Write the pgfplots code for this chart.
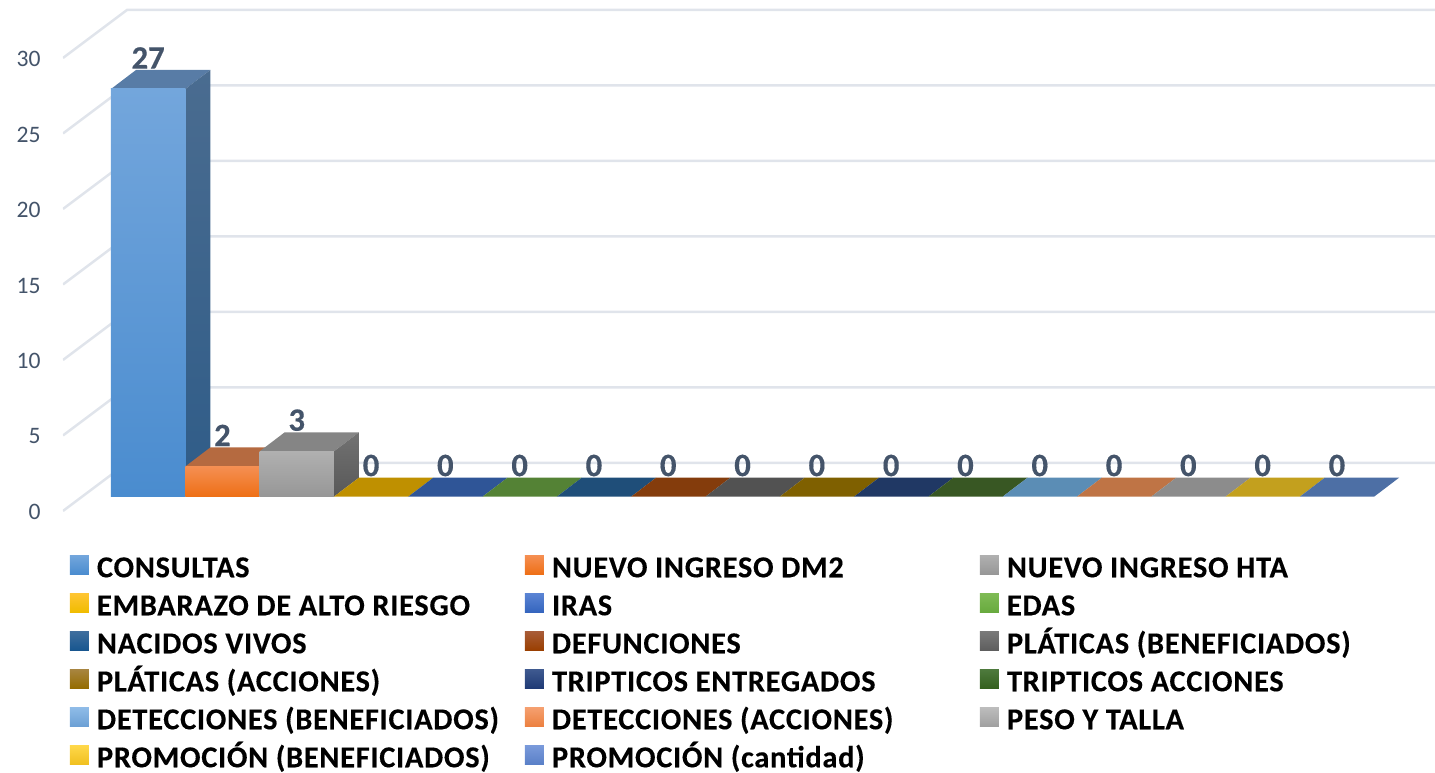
\documentclass[border=0pt]{standalone}
\usepackage{fontspec}
\setmainfont{Carlito}
\newfontfamily\legfont[LetterSpace=2.4,FakeBold=0.3]{Carlito}
\newfontfamily\numfont[FakeBold=0.3]{Carlito}
\usepackage{pgfplots}
\pgfplotsset{compat=1.18}
\definecolor{txt}{HTML}{44546A}
\definecolor{gridc}{HTML}{E0E4EB}
% front top, front bottom, top face for every series
\newcommand{\cols}[4]{%
  \definecolor{c#1a}{HTML}{#2}\definecolor{c#1b}{HTML}{#3}\definecolor{c#1t}{HTML}{#4}}
\cols{0}{73A6DC}{4A8CCF}{587CA6}
\cols{1}{F58F52}{EE6F16}{B56A40}
\cols{2}{B0B0B0}{979797}{858585}
\cols{3}{FFC533}{F0BC00}{BF9000}
\cols{4}{5A84D4}{3565BE}{2F5597}
\cols{5}{7FBB55}{68AA3E}{548235}
\cols{6}{3F6E9E}{17568F}{1F4E79}
\cols{7}{A85C38}{9A3F00}{843C0C}
\cols{8}{7A7A7A}{5E5E5E}{525252}
\cols{9}{A88540}{956C00}{7F6000}
\cols{10}{3F5A90}{1F3A75}{203864}
\cols{11}{4E7A3D}{34601E}{385723}
\cols{12}{8FBCE8}{6CA0D5}{5B8DB5}
\cols{13}{F5A070}{EC8040}{BF7445}
\cols{14}{BDBDBD}{A0A0A0}{8C8C8C}
\cols{15}{FFD84A}{F0C020}{C3A01E}
\cols{16}{7A9ADB}{5A80C8}{4D6FA5}
\definecolor{s0a}{HTML}{4A6C90}\definecolor{s0b}{HTML}{2F5C88}
\definecolor{s2a}{HTML}{727272}\definecolor{s2b}{HTML}{585858}
% 1 px of the reference = 0.5pt; bar depth is 25 px across, 19 px up
\pgfmathsetmacro\dx{25/74.3}
\pgfmathsetmacro\dy{19/15.1}
\pgfplotsset{
  bar3d/.style={ybar, bar width=1, bar shift=0pt, draw=none,
    top color=c#1a, bottom color=c#1b,
    nodes near coords,
    legend image code/.code={\path[top color=c#1a, bottom color=c#1b]
      (0pt,-4.75pt) rectangle (9.5pt,4.75pt);}},
}
% top face of the bar that starts at x=#1 with value #2
\newcommand{\topface}[2]{%
  \pgfmathsetmacro\xa{#1}\pgfmathsetmacro\xb{#1+1}%
  \pgfmathsetmacro\xc{#1+1+\dx}\pgfmathsetmacro\xd{#1+\dx}%
  \pgfmathsetmacro\yt{#2+\dy}%
  \edef\tmp{\noexpand\addplot[forget plot, fill=c#1t, draw=none] coordinates
    {(\xa,#2) (\xb,#2) (\xc,\yt) (\xd,\yt)};}\tmp
}
% side face, same bar; #3 and #4 are the shading colours
\newcommand{\sideface}[4]{%
  \pgfmathsetmacro\xb{#1+1}\pgfmathsetmacro\xc{#1+1+\dx}%
  \pgfmathsetmacro\yt{#2+\dy}%
  \edef\tmp{\noexpand\addplot[forget plot, top color=#3, bottom color=#4, draw=none] coordinates
    {(\xb,0) (\xb,#2) (\xc,\yt) (\xc,\dy)};}\tmp
}
% one wall level: side wall then back wall
\newcommand{\level}[1]{%
  \pgfmathsetmacro\ya{#1-0.947}\pgfmathsetmacro\yb{#1+2.232}%
  \edef\tmp{\noexpand\addplot[forget plot, gridc, line width=1.25pt] coordinates
    {(-0.646,\ya) (0.215,\yb) (17.82,\yb)};}\tmp
}
\newcommand{\leg}[1]{\hspace{4pt}\makebox[214pt][l]{\rule[-5pt]{0pt}{19pt}\fontsize{15.2}{15.2}\legfont\bfseries #1}}
\begin{document}
\begin{tikzpicture}
\useasboundingbox (-31.5pt,0pt) rectangle (686pt,386pt);
\begin{axis}[
    scale only axis, width=686pt, height=386pt,
    xmin=-0.646, xmax=17.82, ymin=-18.232, ymax=32.894,
    axis line style={draw=none}, major tick length=0pt,
    xtick=\empty,
    ytick={-0.947,4.053,9.053,14.053,19.053,24.053,29.053},
    yticklabels={0,5,10,15,20,25,30},
    yticklabel style={font=\fontsize{11.8}{12}\selectfont, text=txt, inner sep=0pt, xshift=-11pt, yshift=-0.5pt},
    /pgf/number format/assume math mode=true,
    every node near coord/.append style={font=\fontsize{16.3}{16.3}\numfont\bfseries,
      text=txt, anchor=south, inner sep=0pt, yshift=10pt},
    legend columns=3,
    legend cell align=left,
    legend style={at={(0.0051,0.2885)}, anchor=north west, draw=none, fill=none,
      inner sep=0pt, outer sep=0pt, row sep=3.5pt, nodes={inner sep=0pt, outer sep=0pt}},
]
\level{0}\level{5}\level{10}\level{15}\level{20}\level{25}\level{30}

\topface{0}{27}\sideface{0}{27}{s0a}{s0b}
\addplot[bar3d=0] coordinates {(0.5,27)}; \addlegendentry{\leg{CONSULTAS}}
\topface{1}{2}
\addplot[bar3d=1] coordinates {(1.5,2)}; \addlegendentry{\leg{NUEVO INGRESO DM2}}
\topface{2}{3}\sideface{2}{3}{s2a}{s2b}
\addplot[bar3d=2] coordinates {(2.5,3)}; \addlegendentry{\leg{NUEVO INGRESO HTA}}
\topface{3}{0}
\addplot[bar3d=3] coordinates {(3.5,0)}; \addlegendentry{\leg{EMBARAZO DE ALTO RIESGO}}
\topface{4}{0}
\addplot[bar3d=4] coordinates {(4.5,0)}; \addlegendentry{\leg{IRAS}}
\topface{5}{0}
\addplot[bar3d=5] coordinates {(5.5,0)}; \addlegendentry{\leg{EDAS}}
\topface{6}{0}
\addplot[bar3d=6] coordinates {(6.5,0)}; \addlegendentry{\leg{NACIDOS VIVOS}}
\topface{7}{0}
\addplot[bar3d=7] coordinates {(7.5,0)}; \addlegendentry{\leg{DEFUNCIONES}}
\topface{8}{0}
\addplot[bar3d=8] coordinates {(8.5,0)}; \addlegendentry{\leg{PLÁTICAS (BENEFICIADOS)}}
\topface{9}{0}
\addplot[bar3d=9] coordinates {(9.5,0)}; \addlegendentry{\leg{PLÁTICAS (ACCIONES)}}
\topface{10}{0}
\addplot[bar3d=10] coordinates {(10.5,0)}; \addlegendentry{\leg{TRIPTICOS ENTREGADOS}}
\topface{11}{0}
\addplot[bar3d=11] coordinates {(11.5,0)}; \addlegendentry{\leg{TRIPTICOS ACCIONES}}
\topface{12}{0}
\addplot[bar3d=12] coordinates {(12.5,0)}; \addlegendentry{\leg{DETECCIONES (BENEFICIADOS)}}
\topface{13}{0}
\addplot[bar3d=13] coordinates {(13.5,0)}; \addlegendentry{\leg{DETECCIONES (ACCIONES)}}
\topface{14}{0}
\addplot[bar3d=14] coordinates {(14.5,0)}; \addlegendentry{\leg{PESO Y TALLA}}
\topface{15}{0}
\addplot[bar3d=15] coordinates {(15.5,0)}; \addlegendentry{\leg{PROMOCIÓN (BENEFICIADOS)}}
\topface{16}{0}
\addplot[bar3d=16] coordinates {(16.5,0)}; \addlegendentry{\leg{PROMOCIÓN (cantidad)}}
\end{axis}
\end{tikzpicture}
\end{document}
